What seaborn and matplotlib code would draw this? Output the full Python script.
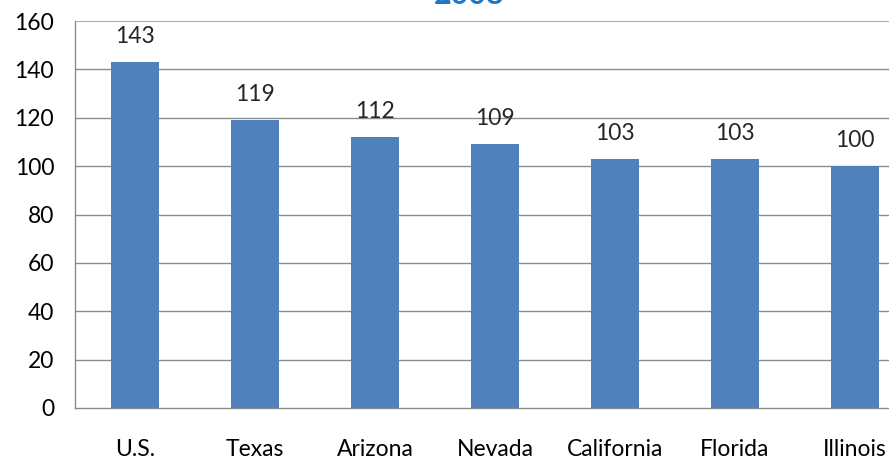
import numpy as np
import pandas as pd
import matplotlib
matplotlib.use("Agg")
import matplotlib.pyplot as plt
import seaborn as sns

# Dados do gráfico
regioes = ["U.S.", "Texas", "Arizona", "Nevada", "California", "Florida", "Illinois"]
valores = [143, 119, 112, 109, 103, 103, 100]
titulo = "2008"

df = pd.DataFrame({"regiao": regioes, "valor": valores})

sns.set_style("white")
plt.rcParams["font.family"] = ["Lato", "DejaVu Sans"]
fs = 16.5

fig = plt.figure(figsize=(8.89, 4.62), dpi=100)
# o eixo continua além da borda direita, como no original recortado
ax = fig.add_axes([75 / 889, 54 / 462, 840 / 889, 387 / 462])

sns.barplot(data=df, x="regiao", y="valor", color="#4F81BD", width=0.4,
            saturation=1, linewidth=0, ax=ax)

ax.set_xlim(-0.5, len(regioes) - 0.5)
ax.set_ylim(0, 160)
ax.set_yticks(np.arange(0, 161, 20))
ax.set_xlabel("")
ax.set_ylabel("")

# grade horizontal
for y in np.arange(20, 160, 20):
    ax.axhline(y, color="#8C8C8C", linewidth=1, zorder=0)
ax.axhline(160, color="#7F9FCC", linewidth=1.2, zorder=0)

for s in ["top", "right"]:
    ax.spines[s].set_visible(False)
for s in ["left", "bottom"]:
    ax.spines[s].set_color("#8C8C8C")
    ax.spines[s].set_linewidth(1)

ax.tick_params(axis="y", length=5, color="#8C8C8C", pad=10, labelsize=fs,
               labelcolor="black")
ax.tick_params(axis="x", which="major", length=0, pad=22, labelsize=fs,
               labelcolor="black")
ax.set_xticks(np.arange(-0.5, len(regioes), 1), minor=True)
ax.tick_params(axis="x", which="minor", length=5, color="#8C8C8C")

# rótulos de valor
for i, v in enumerate(valores):
    ax.annotate(f"{v}", (i, v), xytext=(0, 11), textcoords="offset points",
                ha="center", va="bottom", fontsize=fs)

# título cortado no topo
fig.text(469 / 889, 1 - 4 / 462, titulo, ha="center", va="baseline",
         fontsize=22, fontweight="bold", color="#1F77C8")

fig.savefig("out.png", dpi=100)
